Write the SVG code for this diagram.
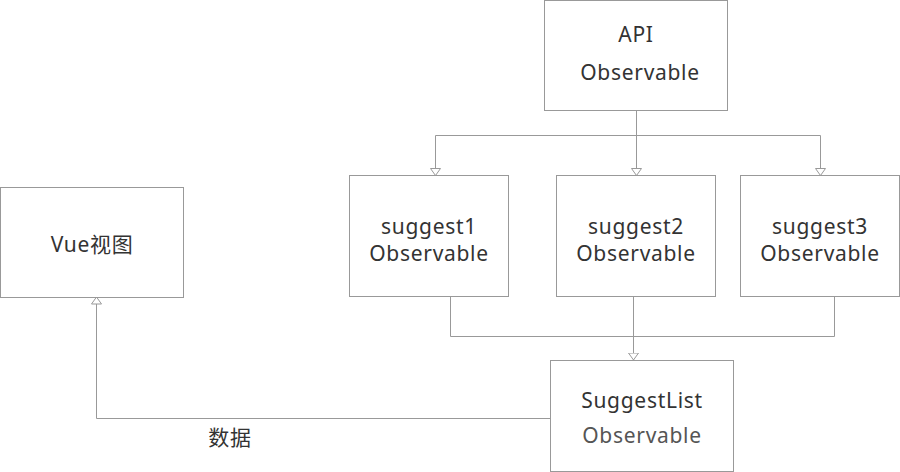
<svg xmlns="http://www.w3.org/2000/svg" width="900" height="472" viewBox="0 0 900 472">
<defs>
<style>
.box{fill:#fff;stroke:#999;stroke-width:1}
.t{font-family:"Noto Sans","Noto Sans CJK SC",sans-serif;font-size:21px;fill:#333;text-anchor:middle;letter-spacing:0.7px}
.c{fill:none;stroke:#999;stroke-width:1}
</style>
<marker id="ah" viewBox="0 0 8 12" refX="7.5" refY="6" markerWidth="8" markerHeight="12" markerUnits="userSpaceOnUse" orient="auto">
<path d="M0.5,1 L7.5,6 L0.5,11 Z" fill="#fff" stroke="#999" stroke-width="1"/>
</marker>
</defs>
<rect width="900" height="472" fill="#fff"/>
<g id="connectors">
<path class="c" d="M636.5,110 V175.5" marker-end="url(#ah)"/>
<path class="c" d="M435.5,135.5 H820.5"/>
<path class="c" d="M435.5,135.5 V175.5" marker-end="url(#ah)"/>
<path class="c" d="M820.5,135.5 V175.5" marker-end="url(#ah)"/>
<path class="c" d="M450.5,296 V336.5 H834.5 V296"/>
<path class="c" d="M633.5,296 V360" marker-end="url(#ah)"/>
<path class="c" d="M550,418.5 H96.5 V297" marker-end="url(#ah)"/>
<text class="t" x="230" y="445">数据</text>
</g>
<g id="api">
<rect class="box" x="544.5" y="0.5" width="183" height="110"/>
<text class="t" x="636" y="42">API</text>
<text class="t" x="640" y="80">Observable</text>
</g>
<g id="suggest1">
<rect class="box" x="349.5" y="175.5" width="159" height="121"/>
<text class="t" x="429" y="234">suggest1</text>
<text class="t" x="429" y="261">Observable</text>
</g>
<g id="suggest2">
<rect class="box" x="556.5" y="175.5" width="159" height="121"/>
<text class="t" x="636" y="234">suggest2</text>
<text class="t" x="636" y="261">Observable</text>
</g>
<g id="suggest3">
<rect class="box" x="740.5" y="175.5" width="159" height="121"/>
<text class="t" x="820" y="234">suggest3</text>
<text class="t" x="820" y="261">Observable</text>
</g>
<g id="vue">
<rect class="box" x="0.5" y="187.5" width="183" height="110"/>
<text class="t" x="92" y="252">Vue视图</text>
</g>
<g id="suggestlist">
<rect class="box" x="550.5" y="360.5" width="183" height="111"/>
<text class="t" x="642" y="408">SuggestList</text>
<text class="t" x="642" y="443" style="fill:#555">Observable</text>
</g>
</svg>
